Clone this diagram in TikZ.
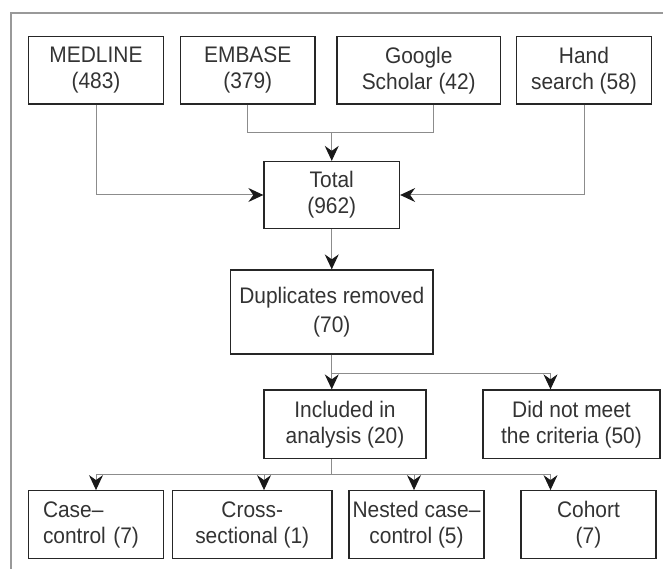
\documentclass[tikz,border=0pt]{standalone}
\usepackage{fontspec}
\setmainfont{Liberation Sans}[FakeStretch=0.93]
\usepackage{tikz}
\usetikzlibrary{arrows.meta, positioning, calc}

\begin{document}
\begin{tikzpicture}[x=1pt, y=-1pt,
    box/.style={rectangle, draw=black!85, line width=1.3pt, minimum height=67.5pt, inner sep=0pt, align=center, text=black!80, font=\fontsize{22.5}{26}\selectfont},
    link/.style={draw=black!45, line width=1pt},
    arr/.style={link, -{Stealth[length=15pt, width=14pt, inset=5pt, color=black!90]}},
    frame/.style={draw=black!40, line width=1.5pt}]
\useasboundingbox (0,0) rectangle (663,569);
% frame
\draw[frame] (11,569) -- (11,13) -- (663,13);
% sources
\node[box, minimum width=135.5pt] (medline) at (96,70.25) {MEDLINE\\(483)};
\node[box, minimum width=134.5pt] (embase) at (247.75,70.25) {EMBASE\\(379)};
\node[box, minimum width=163.5pt] (google) at (418.75,70.25) {Google\\Scholar (42)};
\node[box, minimum width=135pt] (hand) at (584,70.25) {Hand\\search (58)};
% screening
\node[box, minimum width=135.5pt, minimum height=67pt] (total) at (331.75,195) {Total\\(962)};
\node[box, minimum width=202.5pt, minimum height=84pt, font=\fontsize{22.5}{29}\selectfont] (dupl) at (331.75,312) {Duplicates removed\\(70)};
\node[box, minimum width=162pt, minimum height=68.5pt] (incl) at (345,424.25) {Included in\\analysis (20)};
\node[box, minimum width=177pt, minimum height=68.5pt] (notmet) at (571.5,424.25) {Did not meet\\the criteria (50)};
% study types
\node[box, minimum width=135pt, text width=106pt, align=left] (casectl) at (96,524.5) {Case--\\control (7)};
\node[box, minimum width=159.5pt] (cross) at (252.25,524.5) {Cross-\\sectional (1)};
\node[box, minimum width=135pt] (nested) at (416.5,524.5) {Nested case--\\control (5)};
\node[box, minimum width=135pt] (cohort) at (588.5,524.5) {Cohort\\(7)};
% joints
\coordinate (j1) at (331.75,132.5);
\coordinate (j2) at (433,132.5);
\coordinate (b1) at (331.75,373.5);
\coordinate (b2) at (550.5,373.5);
\coordinate (c0) at (331.75,474.5);
\coordinate (c1) at (96,474.5);
\coordinate (c2) at (264,474.5);
\coordinate (c3) at (414,474.5);
\coordinate (c4) at (550.5,474.5);
% connectors
\draw[link] (embase.south) |- (j2) -- (j2 |- google.south);
\draw[arr] (j1) -- (total.north);
\draw[arr] (medline.south) |- (total.west);
\draw[arr] (hand.south) |- (total.east);
\draw[arr] (total.south) -- (dupl.north);
\draw[link] (dupl.south) -- (b1) -- (b2);
\draw[arr] (b1) -- (b1 |- incl.north);
\draw[arr] (b2) -- (b2 |- notmet.north);
\draw[link] (c0 |- incl.south) -- (c0);
\draw[link] (c1) -- (c4);
\draw[arr] (c1) -- (casectl.north);
\draw[arr] (c2) -- (c2 |- cross.north);
\draw[arr] (c3) -- (c3 |- nested.north);
\draw[arr] (c4) -- (c4 |- cohort.north);
\end{tikzpicture}
\end{document}
